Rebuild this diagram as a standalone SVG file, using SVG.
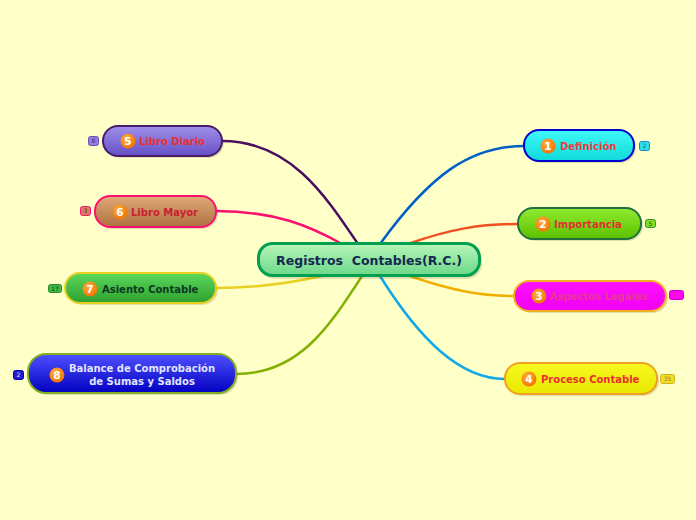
<svg xmlns="http://www.w3.org/2000/svg" width="696" height="520" viewBox="0 0 696 520">
<defs>
<linearGradient id="gCenter" x1="0" y1="0" x2="0" y2="1"><stop offset="0" stop-color="#b8f5b8"/><stop offset="1" stop-color="#6cd88a"/></linearGradient>
<linearGradient id="gPurple" x1="0" y1="0" x2="0" y2="1"><stop offset="0" stop-color="#a090ea"/><stop offset="1" stop-color="#6450c4"/></linearGradient>
<linearGradient id="gBrown" x1="0" y1="0" x2="0" y2="1"><stop offset="0" stop-color="#e0aa78"/><stop offset="1" stop-color="#b07040"/></linearGradient>
<linearGradient id="gGreen" x1="0" y1="0" x2="0" y2="1"><stop offset="0" stop-color="#5cd85c"/><stop offset="1" stop-color="#2ea02e"/></linearGradient>
<linearGradient id="gBlue" x1="0" y1="0" x2="0" y2="1"><stop offset="0" stop-color="#5050ff"/><stop offset="1" stop-color="#0000c0"/></linearGradient>
<linearGradient id="gCyan" x1="0" y1="0" x2="0" y2="1"><stop offset="0" stop-color="#40f8f8"/><stop offset="1" stop-color="#10dada"/></linearGradient>
<linearGradient id="gLime" x1="0" y1="0" x2="0" y2="1"><stop offset="0" stop-color="#90ec30"/><stop offset="1" stop-color="#5cc000"/></linearGradient>
<linearGradient id="gMag" x1="0" y1="0" x2="0" y2="1"><stop offset="0" stop-color="#ff10ff"/><stop offset="1" stop-color="#f000f0"/></linearGradient>
<linearGradient id="gYel" x1="0" y1="0" x2="0" y2="1"><stop offset="0" stop-color="#f8f820"/><stop offset="1" stop-color="#e8e800"/></linearGradient>
<radialGradient id="gNum" cx="0.4" cy="0.35" r="0.7"><stop offset="0" stop-color="#ffb040"/><stop offset="1" stop-color="#f07000"/></radialGradient>
</defs>
<style>
.bg{fill:#ffffc8}
.sh{fill:#000;opacity:0.12}
.lbl{font-family:"DejaVu Sans",Verdana,sans-serif;font-weight:bold;font-size:10px}
.num{font-family:"DejaVu Sans",Verdana,sans-serif;font-weight:bold;font-size:10.5px;fill:#fff;text-anchor:middle}
.nc{fill:url(#gNum)}
.bd{font-family:"DejaVu Sans",Verdana,sans-serif;font-size:6px;text-anchor:middle}
.con{fill:none;stroke-width:2.5;stroke-linecap:round}
</style>
<rect class="bg" x="0" y="0" width="696" height="520"/>
<g id="connectors">
<path class="con" stroke="#4a1060" d="M222,141 C290,141 325,195 358,244"/>
<path class="con" stroke="#ff1070" d="M216,211 C275,211 310,226 342,244"/>
<path class="con" stroke="#e8d020" d="M216,288 C262,288 295,282 322,276"/>
<path class="con" stroke="#80b000" d="M236,374 C300,374 330,325 362,276"/>
<path class="con" stroke="#0060c8" d="M380,244 C430,175 470,146 524,146"/>
<path class="con" stroke="#f05020" d="M408,244 C450,229 480,224 518,224"/>
<path class="con" stroke="#f0b000" d="M410,276 C450,290 480,296 514,296"/>
<path class="con" stroke="#10a8e8" d="M380,276 C420,340 460,379 505,379"/>
</g>
<g id="center">
<rect class="sh" x="260" y="246" width="222" height="33" rx="15"/>
<rect x="258.5" y="243.5" width="221" height="32" rx="14" fill="url(#gCenter)" stroke="#00a050" stroke-width="3"/>
<text x="369" y="264.5" text-anchor="middle" xml:space="preserve" font-family="DejaVu Sans,Verdana,sans-serif" font-weight="bold" font-size="12.5px" fill="#142850">Registros  Contables(R.C.)</text>
</g>
<g id="n5">
<rect class="sh" x="105" y="128" width="119" height="30" rx="15"/>
<rect x="103" y="126" width="119" height="30" rx="15" fill="url(#gPurple)" stroke="#4a1a6a" stroke-width="2"/>
<circle class="nc" cx="128" cy="141" r="7.5"/><text class="num" x="128" y="144.8">5</text>
<text class="lbl" x="139" y="145" fill="#e83030">Libro Diario</text>
<rect x="88.5" y="136.5" width="10" height="9" rx="2" fill="#9080d8" stroke="#6a50b0" stroke-width="1"/><text class="bd" x="93.5" y="143" fill="#4a2a8a">8</text>
</g>
<g id="n6">
<rect class="sh" x="97" y="198" width="121" height="31" rx="15"/>
<rect x="95" y="196" width="121" height="31" rx="15" fill="url(#gBrown)" stroke="#ff1070" stroke-width="2"/>
<circle class="nc" cx="120" cy="212" r="7.5"/><text class="num" x="120" y="215.8">6</text>
<text class="lbl" x="131" y="216" fill="#c82030">Libro Mayor</text>
<rect x="80.5" y="206.5" width="10" height="9" rx="2" fill="#d08060" stroke="#ff1070" stroke-width="1"/><text class="bd" x="85.5" y="213" fill="#802020">3</text>
</g>
<g id="n7">
<rect class="sh" x="67" y="275" width="151" height="30" rx="15"/>
<rect x="65" y="273" width="151" height="30" rx="15" fill="url(#gGreen)" stroke="#e8d020" stroke-width="2"/>
<circle class="nc" cx="90" cy="289" r="7.5"/><text class="num" x="90" y="292.8">7</text>
<text class="lbl" x="102" y="293" fill="#0a3a20">Asiento Contable</text>
<rect x="48.5" y="284.5" width="13" height="8" rx="2" fill="#40b840" stroke="#2a8a2a" stroke-width="1"/><text class="bd" x="55" y="290.5" fill="#0a3a20">17</text>
</g>
<g id="n8">
<rect class="sh" x="30" y="356" width="208" height="39" rx="18"/>
<rect x="28" y="354" width="208" height="39" rx="18" fill="url(#gBlue)" stroke="#80b020" stroke-width="2"/>
<circle class="nc" cx="57" cy="375" r="7.5"/><text class="num" x="57" y="378.8">8</text>
<text class="lbl" x="142" y="372" text-anchor="middle" fill="#e0e4ff">Balance de Comprobación</text>
<text class="lbl" x="142" y="384.5" text-anchor="middle" fill="#e0e4ff">de Sumas y Saldos</text>
<rect x="13.5" y="370.5" width="10" height="9" rx="2" fill="#2020d0" stroke="#0000a0" stroke-width="1"/><text class="bd" x="18.5" y="377" fill="#e0e0ff">2</text>
</g>
<g id="n1">
<rect class="sh" x="526" y="132" width="110" height="31" rx="15"/>
<rect x="524" y="130" width="110" height="31" rx="15" fill="url(#gCyan)" stroke="#0000d0" stroke-width="2"/>
<circle class="nc" cx="548" cy="146" r="7.5"/><text class="num" x="548" y="149.8">1</text>
<text class="lbl" x="560" y="150" fill="#e84040">Definición</text>
<rect x="639.5" y="141.5" width="10" height="9" rx="2" fill="#30e0e8" stroke="#2080c0" stroke-width="1"/><text class="bd" x="644.5" y="148" fill="#1060a0">2</text>
</g>
<g id="n2">
<rect class="sh" x="520" y="210" width="123" height="31" rx="15"/>
<rect x="518" y="208" width="123" height="31" rx="15" fill="url(#gLime)" stroke="#207040" stroke-width="2"/>
<circle class="nc" cx="543" cy="224" r="7.5"/><text class="num" x="543" y="227.8">2</text>
<text class="lbl" x="554" y="228" fill="#e03030">Importancia</text>
<rect x="645.5" y="219.5" width="10" height="8" rx="2" fill="#80e020" stroke="#3a8a3a" stroke-width="1"/><text class="bd" x="650.5" y="225.5" fill="#205020">5</text>
</g>
<g id="n3">
<rect class="sh" x="516" y="283" width="152" height="30" rx="15"/>
<rect x="514" y="281" width="152" height="30" rx="15" fill="url(#gMag)" stroke="#f0b020" stroke-width="2"/>
<circle class="nc" cx="539" cy="296" r="7.5"/><text class="num" x="539" y="299.8">3</text>
<text class="lbl" x="550" y="300" fill="#e83898">Aspectos Legales</text>
<rect x="669.5" y="290.5" width="14" height="9" rx="2" fill="#ff00ff" stroke="#d000c0" stroke-width="1"/><text class="bd" x="676.5" y="297" fill="#e83898">10</text>
</g>
<g id="n4">
<rect class="sh" x="507" y="365" width="152" height="31" rx="15"/>
<rect x="505" y="363" width="152" height="31" rx="15" fill="url(#gYel)" stroke="#f0a020" stroke-width="2"/>
<circle class="nc" cx="529" cy="379" r="7.5"/><text class="num" x="529" y="382.8">4</text>
<text class="lbl" x="541" y="383" fill="#e83030">Proceso Contable</text>
<rect x="660.5" y="374.5" width="14" height="9" rx="2" fill="#f0e020" stroke="#d0b020" stroke-width="1"/><text class="bd" x="667.5" y="381" fill="#a08020">35</text>
</g>
</svg>
